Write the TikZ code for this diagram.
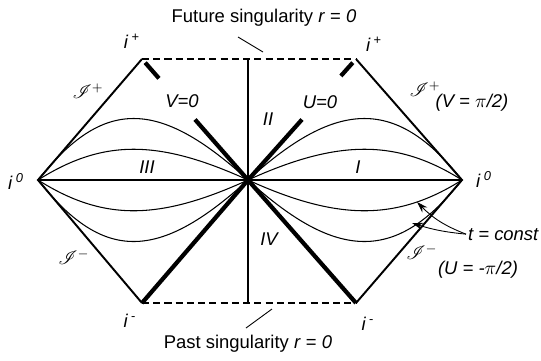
\documentclass[tikz,border=0pt]{standalone}
\usepackage{fontspec}
\setmainfont{Liberation Sans}
\usepackage{mathrsfs}
\usetikzlibrary{arrows.meta,calc,positioning}

\begin{document}
\begin{tikzpicture}[
  x=0.02cm, y=-0.02cm,
  every node/.style={font=\fontsize{10.5}{12}\selectfont,inner sep=1pt},
  lbl/.style={font=\fontsize{10.5}{12}\selectfont\itshape},
  edge/.style={line width=1.1pt,line join=miter},
  horizon/.style={line width=2.4pt},
  sing/.style={line width=1.1pt,dash pattern=on 4pt off 2.4pt},
  slice/.style={line width=0.6pt},
  axis/.style={line width=0.8pt},
  pointer/.style={line width=0.5pt},
  arr/.style={-{Stealth[length=2.2mm,width=1.4mm]},line width=0.5pt}
]
  \useasboundingbox (0,0) rectangle (541,360);
  \coordinate (iL) at (38,180);
  \coordinate (iR) at (462,180);
  \coordinate (C) at (248,180);
  \coordinate (TL) at (142,59);
  \coordinate (TR) at (356,59);
  \coordinate (BL) at (142,303);
  \coordinate (BR) at (356,303);
  \coordinate (sT) at (248,59);
  \coordinate (sB) at (248,303);

  \draw[sing] (TL) -- (TR);
  \draw[sing] (BL) -- (BR);
  \draw[axis] (sT) -- (sB);
  \draw[axis] (iL) -- (iR);
  \foreach \h in {-82,-41,41,82}
    {\draw[slice] (iL) .. controls +(65,\h) and +(-90,\h) .. (C);
     \draw[slice] (C) .. controls +(90,\h) and +(-65,\h) .. (iR);}
  \draw[edge] (TL) -- (iL) -- (BL);
  \draw[edge] (TR) -- (iR) -- (BR);
  \draw[horizon] (BL) -- (C) -- (BR);
  \foreach \c/\f in {TL/0.84,TR/0.86}
    {\draw[horizon] (C) -- ($(C)!0.5!(\c)$);
     \draw[horizon] ($(C)!\f!(\c)$) -- ($(C)!0.97!(\c)$);}

  \node[anchor=base] (future) at (264,22) {Future singularity \textit{r} = \textit{0}};
  \node[anchor=base] (past) at (248,348) {Past singularity \textit{r} = \textit{0}};
  \coordinate (fs1) at (238,37);
  \coordinate (fs2) at (263,52);
  \coordinate (ps1) at (246,328);
  \coordinate (ps2) at (272,309);
  \draw[pointer] (fs1) -- (fs2);
  \draw[pointer] (ps1) -- (ps2);

  \node[anchor=base] (ipL) at (132,48) {\textit{i}\,\textsuperscript{+}};
  \node[anchor=base] (ipR) at (374,51) {\textit{i}\,\textsuperscript{+}};
  \node[anchor=base] (imL) at (130,327) {\textit{i}\,\textsuperscript{-}};
  \node[anchor=base] (imR) at (368,330) {\textit{i}\,\textsuperscript{-}};
  \node[anchor=base] (i0L) at (16,189) {\textit{i}\,\textsuperscript{\textit{0}}};
  \node[anchor=base] (i0R) at (484,187) {\textit{i}\,\textsuperscript{\textit{0}}};

  \node (scpL) at (88,91) {$\mathscr{I}^{+}$};
  \node (scmL) at (74,257) {$\mathscr{I}^{-}$};
  \node (scpR) at (425,89) {$\mathscr{I}^{+}$};
  \node[lbl] (vpi) at (472,103) {(V = $\pi$/2)};
  \node (scmR) at (422,252) {$\mathscr{I}^{-}$};
  \node[lbl] (upi) at (478,270) {(U = -$\pi$/2)};

  \node[lbl] (v0) at (182,101) {V=0};
  \node[lbl] (u0) at (320,102) {U=0};
  \node[lbl] (rII) at (268,119) {II};
  \node[lbl] (rIV) at (269,239) {IV};
  \node[lbl] (rIII) at (147,167) {III};
  \node[lbl] (rI) at (358,167) {I};

  \node[lbl,anchor=base west] (tc) at (466,240) {t = const};
  \coordinate (tA) at (417,202);
  \coordinate (tB) at (412,223);
  \draw[arr] (tc.west) to[bend left=12] (tA);
  \draw[arr] (tc.west) to[bend left=6] (tB);
\end{tikzpicture}
\end{document}
